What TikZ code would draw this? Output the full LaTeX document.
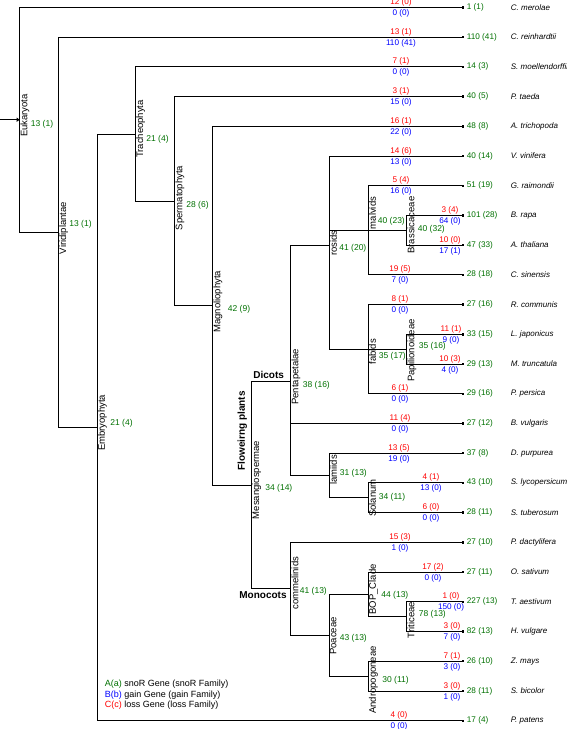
\documentclass[tikz,border=0pt]{standalone}
\usepackage{fontspec}
\setmainfont{Liberation Sans}
\usepackage{tikz}
\usetikzlibrary{arrows.meta}
\definecolor{snoRgreen}{RGB}{0,112,0}
\definecolor{gainblue}{RGB}{0,0,255}
\definecolor{lossred}{RGB}{255,0,0}

\begin{document}
\begin{tikzpicture}[x=1pt,y=-1pt,line width=0.8pt,
  every node/.append style={inner sep=0.5pt},
  cladetxt/.style={rotate=90,anchor=north,font=\fontsize{9.5}{10}\selectfont},
  gnum/.style={anchor=west,text=snoRgreen,font=\fontsize{8.5}{9}\selectfont},
  leafnum/.style={anchor=west,text=snoRgreen,font=\fontsize{8.2}{9}\selectfont},
  lossnum/.style={text=lossred,font=\fontsize{8.2}{9}\selectfont},
  gainnum/.style={text=gainblue,font=\fontsize{8.2}{9}\selectfont},
  spname/.style={anchor=west,font=\fontsize{8}{9}\selectfont\itshape},
  grouptxt/.style={font=\fontsize{10}{11}\selectfont\bfseries},
  toleaf/.style={-{Square[length=1.6pt,width=2.2pt]}}]
\useasboundingbox (0,0) rectangle (567,729);
% leaves: name / y / snoR / loss / gain / x of loss-gain / species
\foreach \n/\y/\g/\r/\b/\cx/\sp in {
  cmer/7.3/1 (1)/12 (0)/0 (0)/401/C. merolae,
  crei/37.0/110 (41)/13 (1)/110 (41)/401/C. reinhardtii,
  smoe/66.7/14 (3)/7 (1)/0 (0)/401/S. moellendorffii,
  ptae/96.5/40 (5)/3 (1)/15 (0)/401/P. taeda,
  atri/126.2/48 (8)/16 (1)/22 (0)/401/A. trichopoda,
  vvin/155.9/40 (14)/14 (6)/13 (0)/401/V. vinifera,
  grai/185.6/51 (19)/5 (4)/16 (0)/401/G. raimondii,
  brap/215.3/101 (28)/3 (4)/64 (0)/450/B. rapa,
  atha/245.1/47 (33)/10 (0)/17 (1)/450/A. thaliana,
  csin/274.8/28 (18)/19 (5)/7 (0)/400/C. sinensis,
  rcom/304.5/27 (16)/8 (1)/0 (0)/400/R. communis,
  ljap/334.2/33 (15)/11 (1)/9 (0)/451/L. japonicus,
  mtru/364.0/29 (13)/10 (3)/4 (0)/450/M. truncatula,
  pper/393.7/29 (16)/6 (1)/0 (0)/400/P. persica,
  bvul/423.4/27 (12)/11 (4)/0 (0)/400/B. vulgaris,
  dpur/453.1/37 (8)/13 (5)/19 (0)/399/D. purpurea,
  slyc/482.8/43 (10)/4 (1)/13 (0)/431/S. lycopersicum,
  stub/512.5/28 (11)/6 (0)/0 (0)/431/S. tuberosum,
  pdac/542.3/27 (10)/15 (3)/1 (0)/400/P. dactylifera,
  osat/572.0/27 (11)/17 (2)/0 (0)/433/O. sativum,
  taes/601.7/227 (13)/1 (0)/150 (0)/451/T. aestivum,
  hvul/631.4/82 (13)/3 (0)/7 (0)/452/H. vulgare,
  zmay/661.1/26 (10)/7 (1)/3 (0)/452/Z. mays,
  sbic/690.9/28 (11)/3 (0)/1 (0)/452/S. bicolor,
  ppat/720.6/17 (4)/4 (0)/0 (0)/399/P. patens}
{
  \coordinate (\n) at (464,\y);
  \node[leafnum] (\n-a) at (466,\y) {\g};
  \node[lossnum] (\n-c) at (\cx,\y-5) {\r};
  \node[gainnum] (\n-b) at (\cx,\y+6) {\b};
  \node[spname] (\n-s) at (510,\y) {\sp};
}
% inner nodes
\coordinate (euk) at (19.7,119.7);
\coordinate (vir) at (58.3,232.1);
\coordinate (emb) at (97,427.2);
\coordinate (tra) at (135.3,133.9);
\coordinate (spe) at (174.7,201);
\coordinate (mag) at (212.7,305.6);
\coordinate (mes) at (251.3,485);
\coordinate (pen) at (290.7,381.3);
\coordinate (ros) at (329,245.1);
\coordinate (mal) at (368,230.2);
\coordinate (bra) at (406.5,230.2);
\coordinate (fab) at (368,349.1);
\coordinate (pap) at (406.5,349.1);
\coordinate (lam) at (329,475.4);
\coordinate (sol) at (368,497.7);
\coordinate (com) at (290.7,588.7);
\coordinate (poa) at (329,635.1);
\coordinate (bop) at (368,594.3);
\coordinate (tri) at (406.5,616.6);
\coordinate (andr) at (368,676);
\coordinate (root) at (0,119.7);
% branches
\draw[-{Triangle[length=3pt,width=4pt]}] (root) -- (euk);
\foreach \p/\c in {euk/vir,vir/emb,emb/tra,tra/spe,spe/mag,mag/mes,mes/pen,mes/com,
  pen/ros,pen/lam,ros/mal,ros/fab,mal/bra,fab/pap,lam/sol,com/poa,poa/bop,poa/andr,bop/tri}
  \draw (\p) |- (\c);
\foreach \p/\c in {euk/cmer,vir/crei,emb/ppat,tra/smoe,spe/ptae,mag/atri,ros/vvin,
  mal/grai,mal/csin,bra/brap,bra/atha,fab/rcom,fab/pper,pap/ljap,pap/mtru,pen/bvul,
  lam/dpur,sol/slyc,sol/stub,com/pdac,bop/osat,tri/taes,tri/hvul,andr/zmay,andr/sbic}
  \draw[toleaf] (\p) |- (\c);
% clade names
\node[cladetxt] (euk-l) at (19.7,115.5) {Eukaryota};
\node[cladetxt] (vir-l) at (58.3,228) {Viridiplantae};
\node[cladetxt] (emb-l) at (97,423) {Embryophyta};
\node[cladetxt] (tra-l) at (135.3,129) {Tracheophyta};
\node[cladetxt] (spe-l) at (174.7,198) {Spermatophyta};
\node[cladetxt] (mag-l) at (212.7,301.7) {Magnoliophyta};
\node[cladetxt] (mes-l) at (251.3,480) {Mesangiospermae};
\node[cladetxt] (pen-l) at (290.7,376.7) {Pentapetalae};
\node[cladetxt] (ros-l) at (329,243.3) {rosids};
\node[cladetxt] (mal-l) at (368,213) {malvids};
\node[cladetxt] (bra-l) at (406.5,225) {Brassicaceae};
\node[cladetxt] (fab-l) at (368,351.7) {fabids};
\node[cladetxt] (pap-l) at (406.5,350.5) {Papilionoideae};
\node[cladetxt] (lam-l) at (329,470) {lamiids};
\node[cladetxt] (sol-l) at (368,498) {Solanum};
\node[cladetxt] (com-l) at (290.7,583.3) {commelinids};
\node[cladetxt] (poa-l) at (329,636) {Poaceae};
\node[cladetxt] (bop-l) at (368,589.5) {BOP\_Clade};
\node[cladetxt] (tri-l) at (406.5,620) {Triticeae};
\node[cladetxt] (andr-l) at (368,680) {Andropogoneae};
% snoR counts of inner nodes
\node[gnum] (euk-a) at (30,124) {13 (1)};
\node[gnum] (vir-a) at (68.5,224) {13 (1)};
\node[gnum] (emb-a) at (109.5,423.7) {21 (4)};
\node[gnum] (tra-a) at (145.5,139) {21 (4)};
\node[gnum] (spe-a) at (185.5,205.7) {28 (6)};
\node[gnum] (mag-a) at (227,309) {42 (9)};
\node[gnum] (mes-a) at (264.5,488.3) {34 (14)};
\node[gnum] (pen-a) at (302,385.3) {38 (16)};
\node[gnum] (ros-a) at (338.5,248.3) {41 (20)};
\node[gnum] (mal-a) at (377,221) {40 (23)};
\node[gnum] (bra-a) at (417,229.3) {40 (32)};
\node[gnum] (fab-a) at (378,356) {35 (17)};
\node[gnum] (pap-a) at (418,346.7) {35 (16)};
\node[gnum] (lam-a) at (339,473.3) {31 (13)};
\node[gnum] (sol-a) at (378,497.3) {34 (11)};
\node[gnum] (com-a) at (299,591) {41 (13)};
\node[gnum] (poa-a) at (339,638.3) {43 (13)};
\node[gnum] (bop-a) at (380.5,595) {44 (13)};
\node[gnum] (tri-a) at (418,614.3) {78 (13)};
\node[gnum] (andr-a) at (381.5,680.7) {30 (11)};
% plant groups
\node[grouptxt,rotate=90] (flow) at (242.3,431) {Floweirng plants};
\node[grouptxt,anchor=south west] (dicots) at (252.5,379.5) {Dicots};
\node[grouptxt,anchor=east] (monocots) at (287.5,595) {Monocots};
% legend
\node[anchor=west,align=left,font=\fontsize{9}{10.7}\selectfont] (legend) at (104,694.7)
  {\textcolor{snoRgreen}{A(a)} snoR Gene (snoR Family)\\
   \textcolor{gainblue}{B(b)} gain Gene (gain Family)\\
   \textcolor{lossred}{C(c)} loss Gene (loss Family)};
\end{tikzpicture}
\end{document}
